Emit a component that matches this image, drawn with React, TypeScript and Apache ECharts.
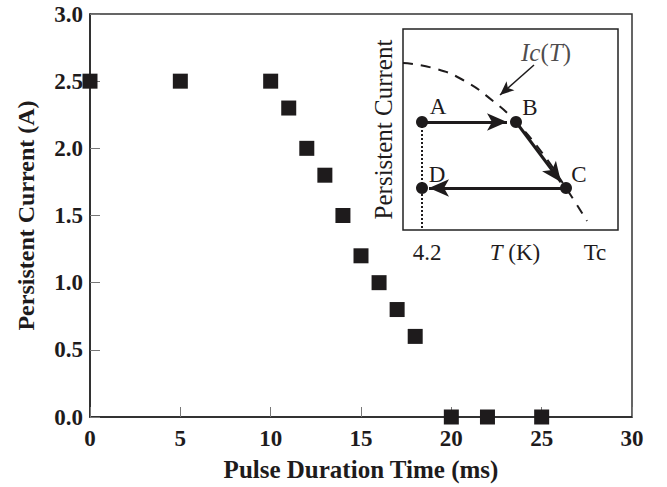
import React, { useEffect, useRef } from "react";
import * as echarts from "echarts";

// Main chart data
const pulseMs = [0, 5, 10, 11, 12, 13, 14, 15, 16, 17, 18, 20, 22, 25];
const currentA = [2.5, 2.5, 2.5, 2.3, 2.0, 1.8, 1.5, 1.2, 1.0, 0.8, 0.6, 0, 0, 0];

// Inset (schematic, arbitrary units)
const icCurve: [number, number][] = [
  [0, 167], [30, 162], [60, 150], [90, 129], [113, 108], [140, 76], [163, 42], [184, 9],
];
const cyclePoints: [number, number, string][] = [
  [19, 108, "A"], [113, 108, "B"], [163, 42, "C"], [19, 42, "D"],
];
const arrowSegments: [number, number, number, number][] = [
  [19, 108, 104, 108],
  [113, 108, 158, 48],
  [163, 42, 26, 42],
];
const icArrow: [number, number, number, number] = [131, 165, 97, 135];
const icLabelPos: [number, number] = [143, 178];
const dottedLine: [number, number][] = [[19, 108], [19, 0]];
const insetTickValues = [24, 112, 192];
const insetTickLabels = ["4.2", "{i|T} (K)", "Tc"];

const FONT = "Liberation Serif, Times New Roman, serif";
const INK = "#1e1b1c";

export default function App() {
  const ref = useRef<HTMLDivElement>(null);
  useEffect(() => {
    if (!ref.current) return;
    const chart = echarts.init(ref.current, null, { renderer: "svg" });
    const labelOffsets: Record<string, [number, number]> = {
      A: [16, -16], B: [14, -15], C: [13, -14], D: [15, -14],
    };
    chart.setOption({
      animation: false,
      backgroundColor: "#fff",
      grid: [
        { left: 90, top: 14, width: 542, height: 404, show: true, borderColor: "#333", borderWidth: 1.5, containLabel: false },
        { left: 403, top: 29, width: 215, height: 201, show: true, borderColor: "#222", borderWidth: 1.5, backgroundColor: "#fff", z: 5 },
      ],
      xAxis: [
        {
          gridIndex: 0, type: "value", min: 0, max: 30, interval: 5,
          name: "Pulse Duration Time (ms)", nameLocation: "middle", nameGap: 40,
          nameTextStyle: { fontFamily: FONT, fontWeight: "bold", fontSize: 25, color: INK },
          axisLine: { lineStyle: { color: "#222", width: 1.5 } },
          axisTick: { inside: true, length: 10, lineStyle: { color: "#777", width: 1 } },
          axisLabel: { fontFamily: FONT, fontWeight: "bold", fontSize: 23, color: INK, margin: 10 },
          splitLine: { show: false },
        },
        {
          gridIndex: 1, type: "value", min: 0, max: 215,
          axisLine: { show: false }, axisTick: { show: false }, splitLine: { show: false },
          axisLabel: {
            customValues: insetTickValues,
            formatter: (v: number) => insetTickLabels[insetTickValues.indexOf(v)] ?? "",
            fontFamily: FONT, fontSize: 23, color: INK, margin: 11,
            rich: { i: { fontFamily: FONT, fontStyle: "italic", fontSize: 23, color: INK } },
          },
        },
      ],
      yAxis: [
        {
          gridIndex: 0, type: "value", min: 0, max: 3, interval: 0.5,
          name: "Persistent Current (A)", nameLocation: "middle", nameGap: 52,
          nameTextStyle: { fontFamily: FONT, fontWeight: "bold", fontSize: 24, color: INK },
          axisLine: { lineStyle: { color: "#222", width: 1.5 } },
          axisTick: { inside: true, length: 10, lineStyle: { color: "#777", width: 1 } },
          axisLabel: { fontFamily: FONT, fontWeight: "bold", fontSize: 23, color: INK, margin: 7, formatter: (v: number) => v.toFixed(1) },
          splitLine: { show: false },
        },
        {
          gridIndex: 1, type: "value", min: 0, max: 201,
          name: "Persistent Current", nameLocation: "middle", nameGap: 7,
          nameTextStyle: { fontFamily: FONT, fontSize: 25, color: INK },
          axisLine: { show: false }, axisTick: { show: false }, axisLabel: { show: false }, splitLine: { show: false },
        },
      ],
      series: [
        {
          type: "scatter", xAxisIndex: 0, yAxisIndex: 0,
          symbol: "rect", symbolSize: 15,
          itemStyle: { color: INK, opacity: 1 },
          data: pulseMs.map((x, i) => [x, currentA[i]]),
          z: 3,
        },
        {
          type: "line", xAxisIndex: 1, yAxisIndex: 1, smooth: true, symbol: "none",
          lineStyle: { color: INK, width: 2, type: [10, 8] },
          data: icCurve, z: 6,
          markLine: {
            silent: true, symbol: ["none", "arrow"], symbolSize: [9, 14],
            label: { show: false },
            lineStyle: { color: INK, width: 1.5, type: "solid" },
            data: [[{ coord: [icArrow[0], icArrow[1]] }, { coord: [icArrow[2], icArrow[3]] }]],
          },
        },
        {
          type: "line", xAxisIndex: 1, yAxisIndex: 1, symbol: "none",
          lineStyle: { color: INK, width: 2, type: [2, 2] },
          data: dottedLine, z: 6,
        },
        {
          type: "scatter", xAxisIndex: 1, yAxisIndex: 1, symbol: "circle", symbolSize: 12,
          itemStyle: { color: INK, opacity: 1 }, z: 8,
          data: cyclePoints.map((p) => ({
            value: [p[0], p[1]],
            label: {
              show: true, formatter: p[2], position: "inside", offset: labelOffsets[p[2]],
              fontFamily: FONT, fontSize: 23, color: INK,
            },
          })),
          markLine: {
            silent: true, symbol: ["none", "arrow"], symbolSize: [13, 20],
            label: { show: false },
            lineStyle: { color: INK, width: 3, type: "solid", opacity: 1 },
            data: arrowSegments.map((s) => [{ coord: [s[0], s[1]] }, { coord: [s[2], s[3]] }]),
          },
        },
        {
          type: "scatter", xAxisIndex: 1, yAxisIndex: 1, symbolSize: 0, z: 8,
          data: [{
            value: icLabelPos,
            label: {
              show: true, position: "inside", formatter: "{i|Ic}({i|T})",
              fontFamily: FONT, fontSize: 25, color: INK,
              rich: { i: { fontFamily: FONT, fontStyle: "italic", fontSize: 25, color: INK } },
            },
          }],
        },
      ],
    });
    return () => chart.dispose();
  }, []);
  return (
    <div
      ref={ref}
      style={{ position: "absolute", left: 0, top: 0, width: 667, height: 487 }}
    />
  );
}
